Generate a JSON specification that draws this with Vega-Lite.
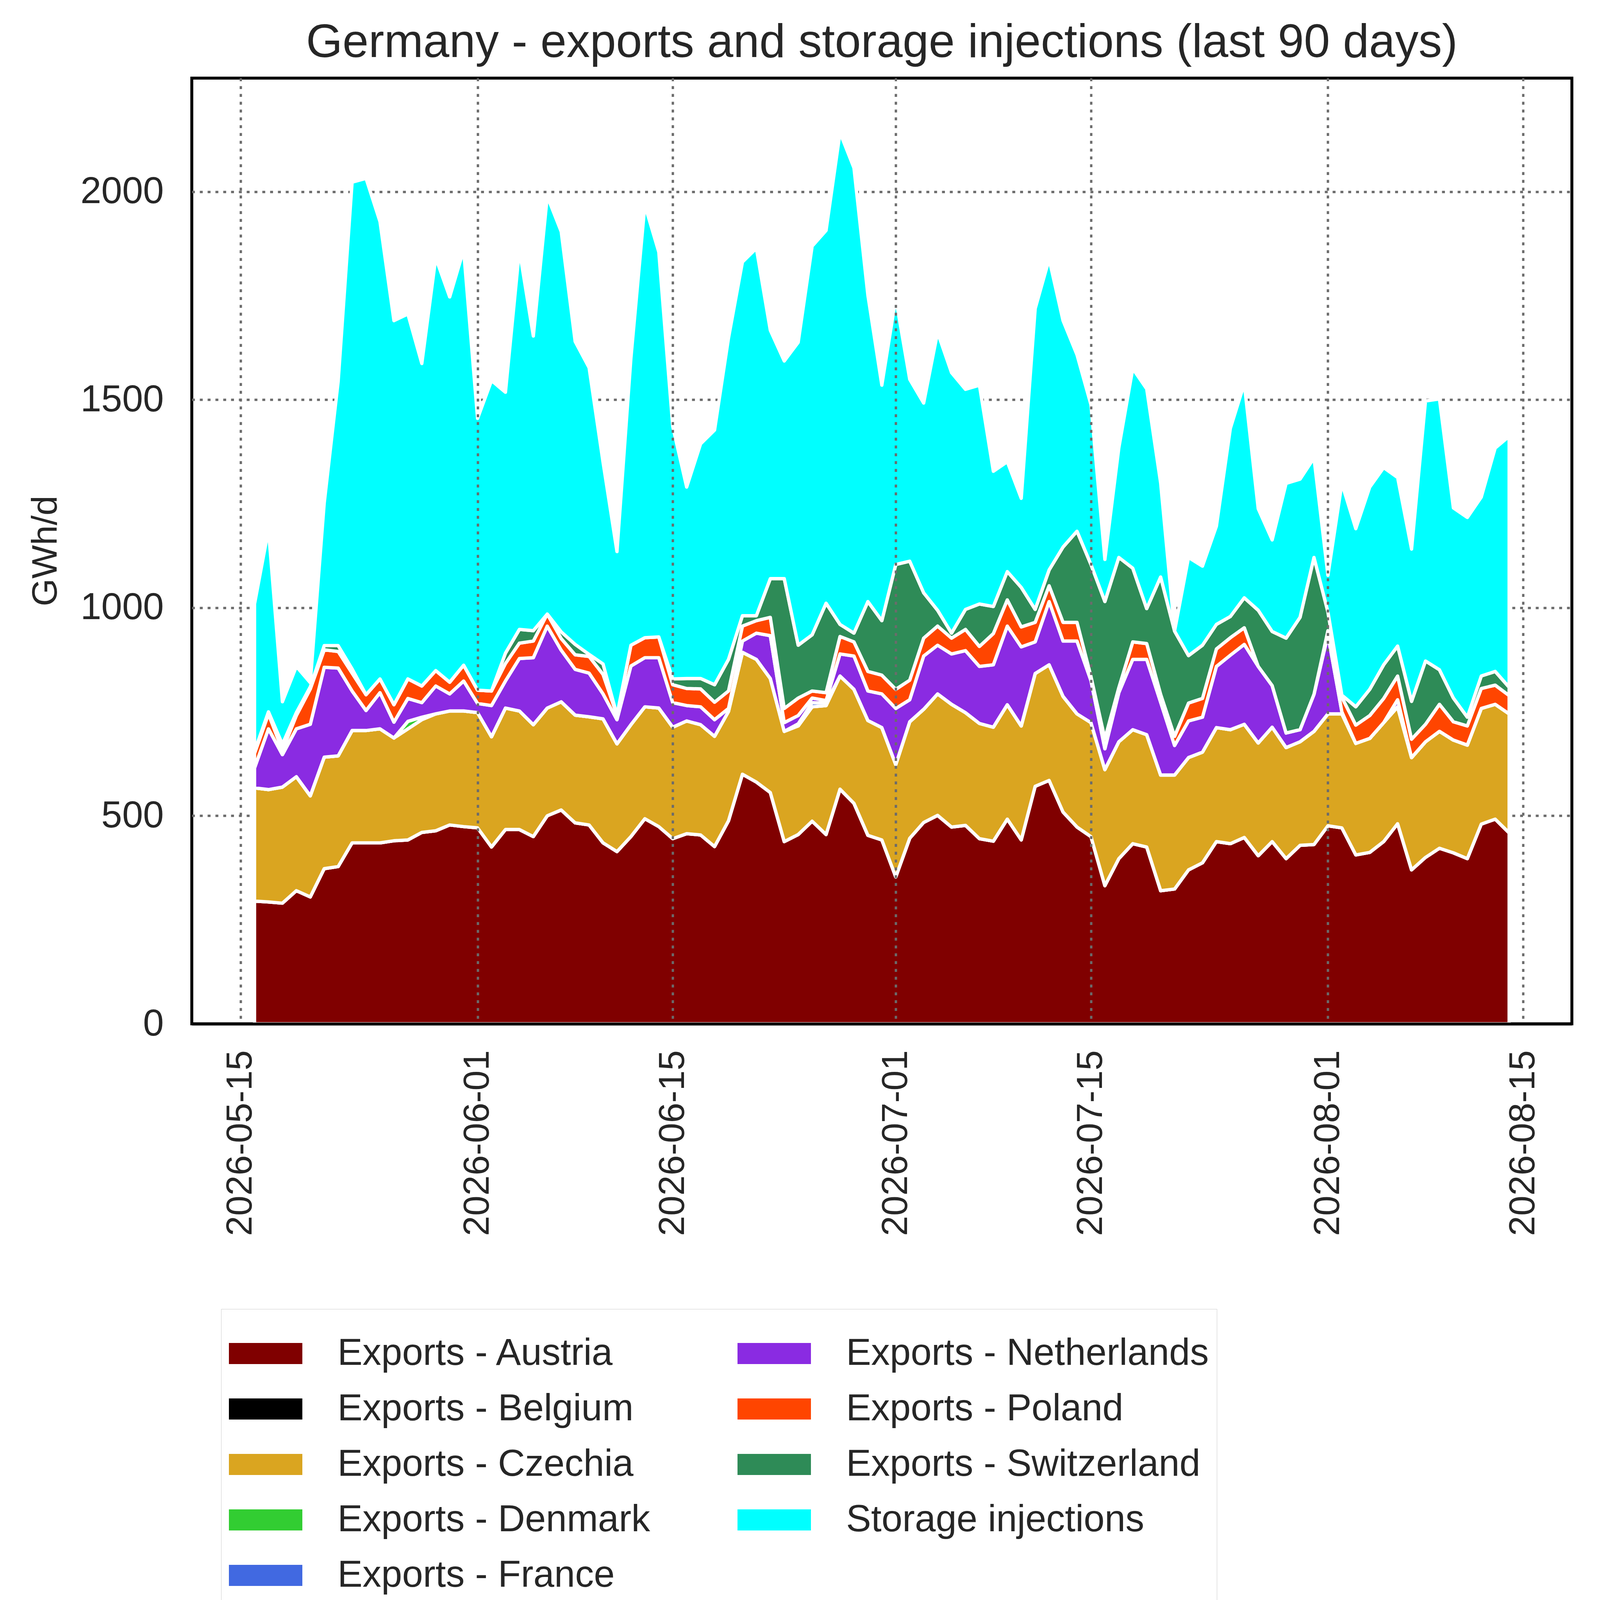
{
  "$schema": "https://vega.github.io/schema/vega-lite/v6.json",
  "description": "Germany - exports and storage injections (last 90 days), stacked areas.",
  "autosize": {"type": "none"},
  "padding": {"left": 491, "top": 200, "right": 72, "bottom": 1519},
  "width": 3533,
  "height": 2421,
  "title": {
    "text": "Germany - exports and storage injections (last 90 days)",
    "fontSize": 120,
    "fontWeight": "normal",
    "color": "#262626",
    "anchor": "middle",
    "frame": "group",
    "baseline": "alphabetic",
    "offset": -66
  },
  "data": {
    "values": [
      {"date": "2026-05-16", "Exports - Austria": 295, "Exports - Belgium": 0, "Exports - Czechia": 272, "Exports - Denmark": 0, "Exports - France": 0, "Exports - Netherlands": 48, "Exports - Poland": 35, "Exports - Switzerland": 5, "Storage injections": 354},
      {"date": "2026-05-17", "Exports - Austria": 293, "Exports - Belgium": 0, "Exports - Czechia": 270, "Exports - Denmark": 0, "Exports - France": 0, "Exports - Netherlands": 146, "Exports - Poland": 36, "Exports - Switzerland": 5, "Storage injections": 438},
      {"date": "2026-05-18", "Exports - Austria": 290, "Exports - Belgium": 0, "Exports - Czechia": 279, "Exports - Denmark": 0, "Exports - France": 0, "Exports - Netherlands": 78, "Exports - Poland": 10, "Exports - Switzerland": 15, "Storage injections": 102},
      {"date": "2026-05-19", "Exports - Austria": 320, "Exports - Belgium": 0, "Exports - Czechia": 274, "Exports - Denmark": 0, "Exports - France": 0, "Exports - Netherlands": 115, "Exports - Poland": 32, "Exports - Switzerland": 7, "Storage injections": 111},
      {"date": "2026-05-20", "Exports - Austria": 305, "Exports - Belgium": 0, "Exports - Czechia": 243, "Exports - Denmark": 0, "Exports - France": 0, "Exports - Netherlands": 172, "Exports - Poland": 85, "Exports - Switzerland": 5, "Storage injections": 10},
      {"date": "2026-05-21", "Exports - Austria": 373, "Exports - Belgium": 0, "Exports - Czechia": 268, "Exports - Denmark": 0, "Exports - France": 0, "Exports - Netherlands": 216, "Exports - Poland": 42, "Exports - Switzerland": 10, "Storage injections": 343},
      {"date": "2026-05-22", "Exports - Austria": 378, "Exports - Belgium": 0, "Exports - Czechia": 266, "Exports - Denmark": 0, "Exports - France": 0, "Exports - Netherlands": 211, "Exports - Poland": 40, "Exports - Switzerland": 14, "Storage injections": 635},
      {"date": "2026-05-23", "Exports - Austria": 435, "Exports - Belgium": 0, "Exports - Czechia": 270, "Exports - Denmark": 0, "Exports - France": 0, "Exports - Netherlands": 95, "Exports - Poland": 43, "Exports - Switzerland": 10, "Storage injections": 1170},
      {"date": "2026-05-24", "Exports - Austria": 435, "Exports - Belgium": 0, "Exports - Czechia": 270, "Exports - Denmark": 0, "Exports - France": 0, "Exports - Netherlands": 48, "Exports - Poland": 38, "Exports - Switzerland": 0, "Storage injections": 1241},
      {"date": "2026-05-25", "Exports - Austria": 435, "Exports - Belgium": 0, "Exports - Czechia": 274, "Exports - Denmark": 0, "Exports - France": 0, "Exports - Netherlands": 87, "Exports - Poland": 33, "Exports - Switzerland": 0, "Storage injections": 1099},
      {"date": "2026-05-26", "Exports - Austria": 440, "Exports - Belgium": 0, "Exports - Czechia": 247, "Exports - Denmark": 0, "Exports - France": 0, "Exports - Netherlands": 38, "Exports - Poland": 42, "Exports - Switzerland": 0, "Storage injections": 923},
      {"date": "2026-05-27", "Exports - Austria": 442, "Exports - Belgium": 0, "Exports - Czechia": 267, "Exports - Denmark": 18, "Exports - France": 0, "Exports - Netherlands": 55, "Exports - Poland": 47, "Exports - Switzerland": 0, "Storage injections": 877},
      {"date": "2026-05-28", "Exports - Austria": 460, "Exports - Belgium": 0, "Exports - Czechia": 271, "Exports - Denmark": 6, "Exports - France": 0, "Exports - Netherlands": 35, "Exports - Poland": 40, "Exports - Switzerland": 0, "Storage injections": 775},
      {"date": "2026-05-29", "Exports - Austria": 464, "Exports - Belgium": 0, "Exports - Czechia": 281, "Exports - Denmark": 0, "Exports - France": 0, "Exports - Netherlands": 67, "Exports - Poland": 37, "Exports - Switzerland": 0, "Storage injections": 992},
      {"date": "2026-05-30", "Exports - Austria": 478, "Exports - Belgium": 0, "Exports - Czechia": 274, "Exports - Denmark": 0, "Exports - France": 0, "Exports - Netherlands": 41, "Exports - Poland": 28, "Exports - Switzerland": 0, "Storage injections": 926},
      {"date": "2026-05-31", "Exports - Austria": 474, "Exports - Belgium": 0, "Exports - Czechia": 278, "Exports - Denmark": 0, "Exports - France": 0, "Exports - Netherlands": 72, "Exports - Poland": 38, "Exports - Switzerland": 0, "Storage injections": 998},
      {"date": "2026-06-01", "Exports - Austria": 471, "Exports - Belgium": 0, "Exports - Czechia": 277, "Exports - Denmark": 0, "Exports - France": 0, "Exports - Netherlands": 22, "Exports - Poland": 32, "Exports - Switzerland": 0, "Storage injections": 653},
      {"date": "2026-06-02", "Exports - Austria": 425, "Exports - Belgium": 0, "Exports - Czechia": 265, "Exports - Denmark": 0, "Exports - France": 0, "Exports - Netherlands": 75, "Exports - Poland": 35, "Exports - Switzerland": 0, "Storage injections": 746},
      {"date": "2026-06-03", "Exports - Austria": 467, "Exports - Belgium": 0, "Exports - Czechia": 292, "Exports - Denmark": 0, "Exports - France": 0, "Exports - Netherlands": 65, "Exports - Poland": 42, "Exports - Switzerland": 25, "Storage injections": 627},
      {"date": "2026-06-04", "Exports - Austria": 467, "Exports - Belgium": 0, "Exports - Czechia": 285, "Exports - Denmark": 0, "Exports - France": 0, "Exports - Netherlands": 126, "Exports - Poland": 37, "Exports - Switzerland": 33, "Storage injections": 912},
      {"date": "2026-06-05", "Exports - Austria": 450, "Exports - Belgium": 0, "Exports - Czechia": 269, "Exports - Denmark": 0, "Exports - France": 0, "Exports - Netherlands": 161, "Exports - Poland": 40, "Exports - Switzerland": 25, "Storage injections": 708},
      {"date": "2026-06-06", "Exports - Austria": 500, "Exports - Belgium": 0, "Exports - Czechia": 259, "Exports - Denmark": 0, "Exports - France": 0, "Exports - Netherlands": 197, "Exports - Poland": 29, "Exports - Switzerland": 0, "Storage injections": 1004},
      {"date": "2026-06-07", "Exports - Austria": 514, "Exports - Belgium": 0, "Exports - Czechia": 260, "Exports - Denmark": 0, "Exports - France": 0, "Exports - Netherlands": 124, "Exports - Poland": 28, "Exports - Switzerland": 16, "Storage injections": 962},
      {"date": "2026-06-08", "Exports - Austria": 483, "Exports - Belgium": 0, "Exports - Czechia": 259, "Exports - Denmark": 0, "Exports - France": 0, "Exports - Netherlands": 110, "Exports - Poland": 35, "Exports - Switzerland": 25, "Storage injections": 728},
      {"date": "2026-06-09", "Exports - Austria": 478, "Exports - Belgium": 0, "Exports - Czechia": 260, "Exports - Denmark": 0, "Exports - France": 0, "Exports - Netherlands": 105, "Exports - Poland": 40, "Exports - Switzerland": 5, "Storage injections": 689},
      {"date": "2026-06-10", "Exports - Austria": 435, "Exports - Belgium": 0, "Exports - Czechia": 298, "Exports - Denmark": 0, "Exports - France": 0, "Exports - Netherlands": 60, "Exports - Poland": 47, "Exports - Switzerland": 25, "Storage injections": 485},
      {"date": "2026-06-11", "Exports - Austria": 414, "Exports - Belgium": 0, "Exports - Czechia": 259, "Exports - Denmark": 0, "Exports - France": 0, "Exports - Netherlands": 58, "Exports - Poland": 11, "Exports - Switzerland": 0, "Storage injections": 393},
      {"date": "2026-06-12", "Exports - Austria": 450, "Exports - Belgium": 0, "Exports - Czechia": 269, "Exports - Denmark": 0, "Exports - France": 0, "Exports - Netherlands": 141, "Exports - Poland": 50, "Exports - Switzerland": 0, "Storage injections": 690},
      {"date": "2026-06-13", "Exports - Austria": 493, "Exports - Belgium": 0, "Exports - Czechia": 269, "Exports - Denmark": 0, "Exports - France": 0, "Exports - Netherlands": 118, "Exports - Poland": 48, "Exports - Switzerland": 0, "Storage injections": 1040},
      {"date": "2026-06-14", "Exports - Austria": 474, "Exports - Belgium": 0, "Exports - Czechia": 285, "Exports - Denmark": 0, "Exports - France": 0, "Exports - Netherlands": 121, "Exports - Poland": 50, "Exports - Switzerland": 0, "Storage injections": 925},
      {"date": "2026-06-15", "Exports - Austria": 445, "Exports - Belgium": 0, "Exports - Czechia": 268, "Exports - Denmark": 0, "Exports - France": 0, "Exports - Netherlands": 59, "Exports - Poland": 43, "Exports - Switzerland": 14, "Storage injections": 607},
      {"date": "2026-06-16", "Exports - Austria": 457, "Exports - Belgium": 0, "Exports - Czechia": 271, "Exports - Denmark": 0, "Exports - France": 0, "Exports - Netherlands": 37, "Exports - Poland": 41, "Exports - Switzerland": 24, "Storage injections": 460},
      {"date": "2026-06-17", "Exports - Austria": 454, "Exports - Belgium": 0, "Exports - Czechia": 265, "Exports - Denmark": 0, "Exports - France": 0, "Exports - Netherlands": 43, "Exports - Poland": 43, "Exports - Switzerland": 25, "Storage injections": 564},
      {"date": "2026-06-18", "Exports - Austria": 426, "Exports - Belgium": 0, "Exports - Czechia": 265, "Exports - Denmark": 0, "Exports - France": 0, "Exports - Netherlands": 40, "Exports - Poland": 42, "Exports - Switzerland": 42, "Storage injections": 612},
      {"date": "2026-06-19", "Exports - Austria": 488, "Exports - Belgium": 0, "Exports - Czechia": 263, "Exports - Denmark": 0, "Exports - France": 0, "Exports - Netherlands": 7, "Exports - Poland": 42, "Exports - Switzerland": 76, "Storage injections": 772},
      {"date": "2026-06-20", "Exports - Austria": 600, "Exports - Belgium": 0, "Exports - Czechia": 293, "Exports - Denmark": 0, "Exports - France": 0, "Exports - Netherlands": 27, "Exports - Poland": 36, "Exports - Switzerland": 25, "Storage injections": 850},
      {"date": "2026-06-21", "Exports - Austria": 581, "Exports - Belgium": 0, "Exports - Czechia": 295, "Exports - Denmark": 0, "Exports - France": 0, "Exports - Netherlands": 63, "Exports - Poland": 30, "Exports - Switzerland": 12, "Storage injections": 883},
      {"date": "2026-06-22", "Exports - Austria": 556, "Exports - Belgium": 0, "Exports - Czechia": 274, "Exports - Denmark": 0, "Exports - France": 0, "Exports - Netherlands": 103, "Exports - Poland": 44, "Exports - Switzerland": 93, "Storage injections": 597},
      {"date": "2026-06-23", "Exports - Austria": 438, "Exports - Belgium": 0, "Exports - Czechia": 265, "Exports - Denmark": 0, "Exports - France": 0, "Exports - Netherlands": 21, "Exports - Poland": 34, "Exports - Switzerland": 312, "Storage injections": 523},
      {"date": "2026-06-24", "Exports - Austria": 455, "Exports - Belgium": 0, "Exports - Czechia": 261, "Exports - Denmark": 0, "Exports - France": 5, "Exports - Netherlands": 20, "Exports - Poland": 42, "Exports - Switzerland": 127, "Storage injections": 728},
      {"date": "2026-06-25", "Exports - Austria": 487, "Exports - Belgium": 0, "Exports - Czechia": 275, "Exports - Denmark": 0, "Exports - France": 10, "Exports - Netherlands": 11, "Exports - Poland": 17, "Exports - Switzerland": 135, "Storage injections": 934},
      {"date": "2026-06-26", "Exports - Austria": 455, "Exports - Belgium": 0, "Exports - Czechia": 310, "Exports - Denmark": 0, "Exports - France": 6, "Exports - Netherlands": 6, "Exports - Poland": 19, "Exports - Switzerland": 215, "Storage injections": 896},
      {"date": "2026-06-27", "Exports - Austria": 564, "Exports - Belgium": 0, "Exports - Czechia": 272, "Exports - Denmark": 0, "Exports - France": 0, "Exports - Netherlands": 53, "Exports - Poland": 42, "Exports - Switzerland": 29, "Storage injections": 1182},
      {"date": "2026-06-28", "Exports - Austria": 530, "Exports - Belgium": 0, "Exports - Czechia": 274, "Exports - Denmark": 0, "Exports - France": 0, "Exports - Netherlands": 80, "Exports - Poland": 34, "Exports - Switzerland": 21, "Storage injections": 1118},
      {"date": "2026-06-29", "Exports - Austria": 453, "Exports - Belgium": 0, "Exports - Czechia": 276, "Exports - Denmark": 0, "Exports - France": 0, "Exports - Netherlands": 71, "Exports - Poland": 47, "Exports - Switzerland": 168, "Storage injections": 736},
      {"date": "2026-06-30", "Exports - Austria": 442, "Exports - Belgium": 0, "Exports - Czechia": 270, "Exports - Denmark": 0, "Exports - France": 0, "Exports - Netherlands": 81, "Exports - Poland": 45, "Exports - Switzerland": 131, "Storage injections": 566},
      {"date": "2026-07-01", "Exports - Austria": 353, "Exports - Belgium": 0, "Exports - Czechia": 270, "Exports - Denmark": 0, "Exports - France": 0, "Exports - Netherlands": 135, "Exports - Poland": 46, "Exports - Switzerland": 300, "Storage injections": 640},
      {"date": "2026-07-02", "Exports - Austria": 446, "Exports - Belgium": 0, "Exports - Czechia": 280, "Exports - Denmark": 0, "Exports - France": 0, "Exports - Netherlands": 53, "Exports - Poland": 47, "Exports - Switzerland": 286, "Storage injections": 437},
      {"date": "2026-07-03", "Exports - Austria": 484, "Exports - Belgium": 0, "Exports - Czechia": 272, "Exports - Denmark": 0, "Exports - France": 0, "Exports - Netherlands": 128, "Exports - Poland": 43, "Exports - Switzerland": 109, "Storage injections": 456},
      {"date": "2026-07-04", "Exports - Austria": 501, "Exports - Belgium": 0, "Exports - Czechia": 292, "Exports - Denmark": 0, "Exports - France": 0, "Exports - Netherlands": 117, "Exports - Poland": 46, "Exports - Switzerland": 38, "Storage injections": 668},
      {"date": "2026-07-05", "Exports - Austria": 473, "Exports - Belgium": 0, "Exports - Czechia": 295, "Exports - Denmark": 0, "Exports - France": 0, "Exports - Netherlands": 121, "Exports - Poland": 38, "Exports - Switzerland": 12, "Storage injections": 626},
      {"date": "2026-07-06", "Exports - Austria": 477, "Exports - Belgium": 0, "Exports - Czechia": 271, "Exports - Denmark": 0, "Exports - France": 0, "Exports - Netherlands": 149, "Exports - Poland": 51, "Exports - Switzerland": 48, "Storage injections": 529},
      {"date": "2026-07-07", "Exports - Austria": 445, "Exports - Belgium": 0, "Exports - Czechia": 277, "Exports - Denmark": 0, "Exports - France": 0, "Exports - Netherlands": 137, "Exports - Poland": 48, "Exports - Switzerland": 102, "Storage injections": 526},
      {"date": "2026-07-08", "Exports - Austria": 439, "Exports - Belgium": 0, "Exports - Czechia": 274, "Exports - Denmark": 0, "Exports - France": 0, "Exports - Netherlands": 150, "Exports - Poland": 75, "Exports - Switzerland": 65, "Storage injections": 325},
      {"date": "2026-07-09", "Exports - Austria": 492, "Exports - Belgium": 0, "Exports - Czechia": 275, "Exports - Denmark": 0, "Exports - France": 0, "Exports - Netherlands": 189, "Exports - Poland": 63, "Exports - Switzerland": 68, "Storage injections": 264},
      {"date": "2026-07-10", "Exports - Austria": 442, "Exports - Belgium": 0, "Exports - Czechia": 274, "Exports - Denmark": 0, "Exports - France": 0, "Exports - Netherlands": 190, "Exports - Poland": 48, "Exports - Switzerland": 95, "Storage injections": 214},
      {"date": "2026-07-11", "Exports - Austria": 571, "Exports - Belgium": 0, "Exports - Czechia": 271, "Exports - Denmark": 0, "Exports - France": 0, "Exports - Netherlands": 76, "Exports - Poland": 47, "Exports - Switzerland": 31, "Storage injections": 723},
      {"date": "2026-07-12", "Exports - Austria": 585, "Exports - Belgium": 0, "Exports - Czechia": 278, "Exports - Denmark": 0, "Exports - France": 0, "Exports - Netherlands": 152, "Exports - Poland": 38, "Exports - Switzerland": 38, "Storage injections": 747},
      {"date": "2026-07-13", "Exports - Austria": 509, "Exports - Belgium": 0, "Exports - Czechia": 278, "Exports - Denmark": 0, "Exports - France": 0, "Exports - Netherlands": 133, "Exports - Poland": 45, "Exports - Switzerland": 181, "Storage injections": 544},
      {"date": "2026-07-14", "Exports - Austria": 473, "Exports - Belgium": 0, "Exports - Czechia": 272, "Exports - Denmark": 0, "Exports - France": 0, "Exports - Netherlands": 175, "Exports - Poland": 45, "Exports - Switzerland": 219, "Storage injections": 424},
      {"date": "2026-07-15", "Exports - Austria": 450, "Exports - Belgium": 0, "Exports - Czechia": 274, "Exports - Denmark": 0, "Exports - France": 0, "Exports - Netherlands": 101, "Exports - Poland": 10, "Exports - Switzerland": 269, "Storage injections": 384},
      {"date": "2026-07-16", "Exports - Austria": 332, "Exports - Belgium": 0, "Exports - Czechia": 279, "Exports - Denmark": 0, "Exports - France": 0, "Exports - Netherlands": 50, "Exports - Poland": 24, "Exports - Switzerland": 330, "Storage injections": 101},
      {"date": "2026-07-17", "Exports - Austria": 397, "Exports - Belgium": 0, "Exports - Czechia": 281, "Exports - Denmark": 0, "Exports - France": 0, "Exports - Netherlands": 118, "Exports - Poland": 12, "Exports - Switzerland": 313, "Storage injections": 263},
      {"date": "2026-07-18", "Exports - Austria": 433, "Exports - Belgium": 0, "Exports - Czechia": 274, "Exports - Denmark": 0, "Exports - France": 0, "Exports - Netherlands": 169, "Exports - Poland": 42, "Exports - Switzerland": 177, "Storage injections": 480},
      {"date": "2026-07-19", "Exports - Austria": 425, "Exports - Belgium": 0, "Exports - Czechia": 270, "Exports - Denmark": 0, "Exports - France": 0, "Exports - Netherlands": 181, "Exports - Poland": 38, "Exports - Switzerland": 84, "Storage injections": 528},
      {"date": "2026-07-20", "Exports - Austria": 320, "Exports - Belgium": 0, "Exports - Czechia": 278, "Exports - Denmark": 0, "Exports - France": 0, "Exports - Netherlands": 175, "Exports - Poland": 19, "Exports - Switzerland": 282, "Storage injections": 226},
      {"date": "2026-07-21", "Exports - Austria": 324, "Exports - Belgium": 0, "Exports - Czechia": 274, "Exports - Denmark": 0, "Exports - France": 0, "Exports - Netherlands": 71, "Exports - Poland": 22, "Exports - Switzerland": 253, "Storage injections": 0},
      {"date": "2026-07-22", "Exports - Austria": 370, "Exports - Belgium": 0, "Exports - Czechia": 270, "Exports - Denmark": 0, "Exports - France": 0, "Exports - Netherlands": 88, "Exports - Poland": 43, "Exports - Switzerland": 114, "Storage injections": 236},
      {"date": "2026-07-23", "Exports - Austria": 387, "Exports - Belgium": 0, "Exports - Czechia": 266, "Exports - Denmark": 0, "Exports - France": 0, "Exports - Netherlands": 84, "Exports - Poland": 45, "Exports - Switzerland": 128, "Storage injections": 190},
      {"date": "2026-07-24", "Exports - Austria": 438, "Exports - Belgium": 0, "Exports - Czechia": 274, "Exports - Denmark": 0, "Exports - France": 0, "Exports - Netherlands": 147, "Exports - Poland": 42, "Exports - Switzerland": 59, "Storage injections": 236},
      {"date": "2026-07-25", "Exports - Austria": 433, "Exports - Belgium": 0, "Exports - Czechia": 274, "Exports - Denmark": 0, "Exports - France": 0, "Exports - Netherlands": 179, "Exports - Poland": 42, "Exports - Switzerland": 51, "Storage injections": 452},
      {"date": "2026-07-26", "Exports - Austria": 448, "Exports - Belgium": 0, "Exports - Czechia": 272, "Exports - Denmark": 0, "Exports - France": 0, "Exports - Netherlands": 192, "Exports - Poland": 40, "Exports - Switzerland": 72, "Storage injections": 515},
      {"date": "2026-07-27", "Exports - Austria": 404, "Exports - Belgium": 0, "Exports - Czechia": 271, "Exports - Denmark": 0, "Exports - France": 0, "Exports - Netherlands": 184, "Exports - Poland": 0, "Exports - Switzerland": 135, "Storage injections": 244},
      {"date": "2026-07-28", "Exports - Austria": 438, "Exports - Belgium": 0, "Exports - Czechia": 275, "Exports - Denmark": 0, "Exports - France": 0, "Exports - Netherlands": 100, "Exports - Poland": 0, "Exports - Switzerland": 130, "Storage injections": 220},
      {"date": "2026-07-29", "Exports - Austria": 397, "Exports - Belgium": 0, "Exports - Czechia": 267, "Exports - Denmark": 0, "Exports - France": 0, "Exports - Netherlands": 35, "Exports - Poland": 0, "Exports - Switzerland": 228, "Storage injections": 372},
      {"date": "2026-07-30", "Exports - Austria": 429, "Exports - Belgium": 0, "Exports - Czechia": 249, "Exports - Denmark": 0, "Exports - France": 0, "Exports - Netherlands": 29, "Exports - Poland": 0, "Exports - Switzerland": 270, "Storage injections": 332},
      {"date": "2026-07-31", "Exports - Austria": 431, "Exports - Belgium": 0, "Exports - Czechia": 272, "Exports - Denmark": 0, "Exports - France": 0, "Exports - Netherlands": 89, "Exports - Poland": 0, "Exports - Switzerland": 329, "Storage injections": 239},
      {"date": "2026-08-01", "Exports - Austria": 476, "Exports - Belgium": 0, "Exports - Czechia": 269, "Exports - Denmark": 0, "Exports - France": 0, "Exports - Netherlands": 190, "Exports - Poland": 10, "Exports - Switzerland": 45, "Storage injections": 88},
      {"date": "2026-08-02", "Exports - Austria": 471, "Exports - Belgium": 0, "Exports - Czechia": 274, "Exports - Denmark": 0, "Exports - France": 0, "Exports - Netherlands": 5, "Exports - Poland": 35, "Exports - Switzerland": 5, "Storage injections": 509},
      {"date": "2026-08-03", "Exports - Austria": 406, "Exports - Belgium": 0, "Exports - Czechia": 268, "Exports - Denmark": 0, "Exports - France": 0, "Exports - Netherlands": 0, "Exports - Poland": 44, "Exports - Switzerland": 44, "Storage injections": 428},
      {"date": "2026-08-04", "Exports - Austria": 412, "Exports - Belgium": 0, "Exports - Czechia": 274, "Exports - Denmark": 0, "Exports - France": 0, "Exports - Netherlands": 0, "Exports - Poland": 55, "Exports - Switzerland": 63, "Storage injections": 486},
      {"date": "2026-08-05", "Exports - Austria": 438, "Exports - Belgium": 0, "Exports - Czechia": 286, "Exports - Denmark": 0, "Exports - France": 0, "Exports - Netherlands": 0, "Exports - Poland": 58, "Exports - Switzerland": 81, "Storage injections": 474},
      {"date": "2026-08-06", "Exports - Austria": 481, "Exports - Belgium": 0, "Exports - Czechia": 281, "Exports - Denmark": 0, "Exports - France": 0, "Exports - Netherlands": 17, "Exports - Poland": 57, "Exports - Switzerland": 72, "Storage injections": 405},
      {"date": "2026-08-07", "Exports - Austria": 370, "Exports - Belgium": 0, "Exports - Czechia": 270, "Exports - Denmark": 0, "Exports - France": 0, "Exports - Netherlands": 0, "Exports - Poland": 44, "Exports - Switzerland": 91, "Storage injections": 366},
      {"date": "2026-08-08", "Exports - Austria": 400, "Exports - Belgium": 0, "Exports - Czechia": 278, "Exports - Denmark": 0, "Exports - France": 0, "Exports - Netherlands": 0, "Exports - Poland": 42, "Exports - Switzerland": 152, "Storage injections": 625},
      {"date": "2026-08-09", "Exports - Austria": 422, "Exports - Belgium": 0, "Exports - Czechia": 281, "Exports - Denmark": 0, "Exports - France": 0, "Exports - Netherlands": 0, "Exports - Poland": 65, "Exports - Switzerland": 83, "Storage injections": 651},
      {"date": "2026-08-10", "Exports - Austria": 411, "Exports - Belgium": 0, "Exports - Czechia": 271, "Exports - Denmark": 0, "Exports - France": 0, "Exports - Netherlands": 0, "Exports - Poland": 44, "Exports - Switzerland": 57, "Storage injections": 457},
      {"date": "2026-08-11", "Exports - Austria": 397, "Exports - Belgium": 0, "Exports - Czechia": 273, "Exports - Denmark": 0, "Exports - France": 0, "Exports - Netherlands": 0, "Exports - Poland": 46, "Exports - Switzerland": 21, "Storage injections": 480},
      {"date": "2026-08-12", "Exports - Austria": 480, "Exports - Belgium": 0, "Exports - Czechia": 278, "Exports - Denmark": 0, "Exports - France": 0, "Exports - Netherlands": 0, "Exports - Poland": 48, "Exports - Switzerland": 30, "Storage injections": 430},
      {"date": "2026-08-13", "Exports - Austria": 492, "Exports - Belgium": 0, "Exports - Czechia": 276, "Exports - Denmark": 0, "Exports - France": 0, "Exports - Netherlands": 0, "Exports - Poland": 46, "Exports - Switzerland": 33, "Storage injections": 537},
      {"date": "2026-08-14", "Exports - Austria": 459, "Exports - Belgium": 0, "Exports - Czechia": 286, "Exports - Denmark": 0, "Exports - France": 0, "Exports - Netherlands": 0, "Exports - Poland": 44, "Exports - Switzerland": 20, "Storage injections": 603}
    ]
  },
  "transform": [
    {"fold": ["Exports - Austria", "Exports - Belgium", "Exports - Czechia", "Exports - Denmark", "Exports - France", "Exports - Netherlands", "Exports - Poland", "Exports - Switzerland", "Storage injections"], "as": ["series", "gwh"]}
  ],
  "mark": {"type": "area", "stroke": "white", "strokeWidth": 8.5, "strokeJoin": "round", "opacity": 1},
  "encoding": {
    "x": {
      "field": "date",
      "type": "temporal",
      "scale": {
        "type": "utc",
        "domain": [
          {"year": 2026, "month": 5, "date": 11, "hours": 12, "utc": true},
          {"year": 2026, "month": 8, "date": 18, "hours": 12, "utc": true}
        ]
      },
      "axis": {
        "values": [
          {"year": 2026, "month": 5, "date": 15, "utc": true},
          {"year": 2026, "month": 6, "date": 1, "utc": true},
          {"year": 2026, "month": 6, "date": 15, "utc": true},
          {"year": 2026, "month": 7, "date": 1, "utc": true},
          {"year": 2026, "month": 7, "date": 15, "utc": true},
          {"year": 2026, "month": 8, "date": 1, "utc": true},
          {"year": 2026, "month": 8, "date": 15, "utc": true}
        ],
        "format": "%Y-%m-%d",
        "labelAngle": 270,
        "labelFontSize": 93,
        "labelColor": "#262626",
        "labelPadding": 67,
        "labelLimit": 2000,
        "labelOverlap": false,
        "labelFlush": false,
        "ticks": false,
        "domain": true,
        "domainColor": "black",
        "domainWidth": 7.5,
        "grid": true,
        "gridColor": "#6b6b6b",
        "gridDash": [7.5, 12.5],
        "gridWidth": 6,
        "title": null,
        "zindex": 1
      }
    },
    "y": {
      "field": "gwh",
      "type": "quantitative",
      "stack": "zero",
      "scale": {"domain": [0, 2273], "nice": false, "zero": true},
      "axis": {
        "values": [0, 500, 1000, 1500, 2000],
        "format": "d",
        "labelFontSize": 96,
        "labelColor": "#262626",
        "labelPadding": 72,
        "labelLimit": 2000,
        "ticks": false,
        "domain": false,
        "grid": true,
        "gridColor": "#6b6b6b",
        "gridDash": [7.5, 12.5],
        "gridWidth": 6,
        "title": "GWh/d",
        "titleFontSize": 91,
        "titleFontWeight": "normal",
        "titleColor": "#262626",
        "titleAngle": 270,
        "titleAlign": "center",
        "titleBaseline": "alphabetic",
        "titleX": -347,
        "titleY": 1210
      }
    },
    "order": {"field": "series", "sort": "ascending"},
    "color": {
      "field": "series",
      "type": "nominal",
      "scale": {
        "domain": ["Exports - Austria", "Exports - Belgium", "Exports - Czechia", "Exports - Denmark", "Exports - France", "Exports - Netherlands", "Exports - Poland", "Exports - Switzerland", "Storage injections"],
        "range": ["#800000", "#000000", "#DAA520", "#32CD32", "#4169E1", "#8A2BE2", "#FF4500", "#2E8B57", "#00FFFF"]
      },
      "legend": {
        "title": null,
        "orient": "none",
        "legendX": 75,
        "legendY": 3151,
        "direction": "vertical",
        "columns": 2,
        "values": ["Exports - Austria", "Exports - Belgium", "Exports - Czechia", "Exports - Denmark", "Exports - France", "Exports - Netherlands", "Exports - Poland", "Exports - Switzerland", "Storage injections"],
        "symbolType": "M-1,-0.286L1,-0.286L1,0.286L-1,0.286Z",
        "symbolSize": 35344,
        "symbolStrokeWidth": 0,
        "symbolOpacity": 1,
        "labelFontSize": 96,
        "labelColor": "#262626",
        "labelOffset": 90,
        "labelLimit": 3000,
        "rowPadding": -23,
        "columnPadding": 223,
        "padding": 20,
        "strokeColor": "#cccccc",
        "encode": {
          "legend": {
            "update": {
              "strokeWidth": {"value": 7},
              "cornerRadius": {"value": 18},
              "fill": {"value": "white"}
            }
          }
        }
      }
    }
  },
  "config": {
    "font": "Liberation Sans",
    "background": "white",
    "view": {"stroke": "black", "strokeWidth": 7.5}
  }
}
